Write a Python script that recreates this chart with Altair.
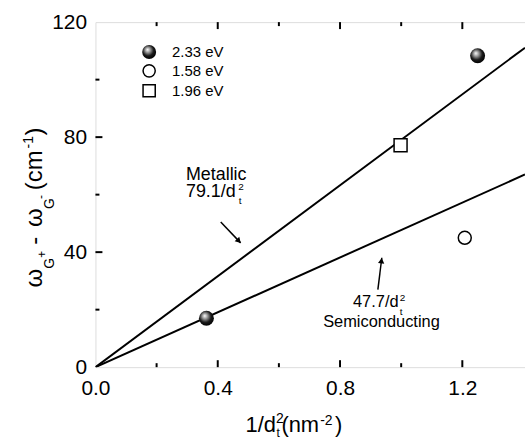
import altair as alt
import pandas as pd

# ---- data ----
series_labels = ["2.33 eV", "1.58 eV", "1.96 eV"]
x_233 = [0.363, 1.250]
y_233 = [17.0, 108.3]
x_158 = [1.208]
y_158 = [45.0]
x_196 = [0.998]
y_196 = [77.2]

# fitted lines (slopes 79.1 and 47.7)
line_x = [0.0, 1.405]
metallic_y = [0.0, 111.1]
semi_y = [0.0, 67.0]

x_major = [0.4, 0.8, 1.2]
x_minor = [0.2, 0.6, 1.0]
y_major = [40, 80]
y_minor = [20, 60, 100]
x_tick_labels = [0.0, 0.4, 0.8, 1.2]
y_tick_labels = [0, 40, 80, 120]

FONT = "Liberation Sans"
W, H = 432, 347
OX, OY = 96, 21

xs = alt.Scale(domain=[0, 1.405], nice=False, zero=False)
ys = alt.Scale(domain=[0, 120], nice=False)

x_axis = alt.Axis(values=x_tick_labels, format=".1f", ticks=False, tickSize=0, domain=False, grid=False,
                  labelFontSize=21, labelFont=FONT, labelColor="black", labelPadding=11,
                  labelFlush=False, labelOverlap=False, title=None)
y_axis = alt.Axis(values=y_tick_labels, format="d", ticks=False, tickSize=0, domain=False, grid=False,
                  labelFontSize=21, labelFont=FONT, labelColor="black", labelPadding=9,
                  labelFlush=False, labelOverlap=False, title=None)

lines_df = pd.DataFrame({"x": line_x + line_x,
                         "y": metallic_y + semi_y,
                         "g": ["Metallic"] * 2 + ["Semiconducting"] * 2})

lines = alt.Chart(lines_df).mark_line(color="black", strokeWidth=2, clip=True).encode(
    x=alt.X("x:Q", scale=xs, axis=x_axis),
    y=alt.Y("y:Q", scale=ys, axis=y_axis),
    detail="g:N",
)

sphere_fill = alt.RadialGradient(
    gradient="radial",
    stops=[alt.GradientStop(offset=0, color="#ffffff"),
           alt.GradientStop(offset=0.3, color="#9a9a9a"),
           alt.GradientStop(offset=0.65, color="#1a1a1a"),
           alt.GradientStop(offset=1, color="#000000")],
    x1=0.38, y1=0.33, r1=0.0, x2=0.45, y2=0.42, r2=0.6,
)

df233 = pd.DataFrame({"x": x_233, "y": y_233})
df158 = pd.DataFrame({"x": x_158, "y": y_158})
df196 = pd.DataFrame({"x": x_196, "y": y_196})

p233 = alt.Chart(df233).mark_point(shape="circle", filled=True, fill=sphere_fill, size=225,
                                   opacity=1, strokeWidth=0).encode(
    x=alt.X("x:Q", scale=xs), y=alt.Y("y:Q", scale=ys))
p158 = alt.Chart(df158).mark_point(shape="circle", filled=False, fill="white", stroke="black",
                                   strokeWidth=1.5, size=170, opacity=1).encode(
    x=alt.X("x:Q", scale=xs), y=alt.Y("y:Q", scale=ys))
p196 = alt.Chart(df196).mark_point(shape="square", filled=False, fill="white", stroke="black",
                                   strokeWidth=1.5, size=170, opacity=1).encode(
    x=alt.X("x:Q", scale=xs), y=alt.Y("y:Q", scale=ys))

# ---- inward ticks ----
def xticks(vals, length, top):
    d = pd.DataFrame({"v": vals})
    if top:
        return alt.Chart(d).mark_rule(color="black", strokeWidth=2).encode(
            x=alt.X("v:Q", scale=xs), y=alt.value(0), y2=alt.value(length))
    return alt.Chart(d).mark_rule(color="black", strokeWidth=2).encode(
        x=alt.X("v:Q", scale=xs), y=alt.value(H), y2=alt.value(H - length))

def yticks(vals, length):
    d = pd.DataFrame({"v": vals})
    return alt.Chart(d).mark_rule(color="black", strokeWidth=2).encode(
        y=alt.Y("v:Q", scale=ys), x=alt.value(0), x2=alt.value(length))

ticks = [xticks(x_major, 7, False), xticks(x_minor, 4, False),
         xticks(x_major, 7, True), xticks(x_minor, 4, True),
         yticks(y_major, 7), yticks(y_minor, 4)]

one = pd.DataFrame({"a": [0]})

def txt(s, x, y, size, angle=0, align="left", baseline="alphabetic"):
    kw = dict(text=s, fontSize=size, font=FONT, color="black", align=align, baseline=baseline)
    if angle:
        kw["angle"] = angle
    return alt.Chart(one).mark_text(**kw).encode(x=alt.value(x - OX), y=alt.value(y - OY))

texts = [
    # x-axis title
    txt("1/d", 247, 433, 22),
    txt("2", 277.5, 424, 14),
    txt("t", 278, 438, 12),
    txt("(nm", 283, 433, 22),
    txt("-2", 322, 426, 14),
    txt(")", 337, 433, 22),
    # y-axis title (rotated)
    txt("ω", 42, 288, 24, 270),
    txt("G", 54, 269, 14, 270),
    txt("+", 46, 258, 12, 270),
    txt("-", 42, 245, 24, 270),
    txt("ω", 42, 227, 24, 270),
    txt("G", 54, 209, 14, 270),
    txt("-", 45, 199, 12, 270),
    txt("(cm", 42, 190, 24, 270),
    txt("-1", 33, 148, 14, 270),
    txt(")", 42, 135, 24, 270),
    # annotations
    txt("Metallic", 187, 180, 18),
    txt("79.1/d", 187, 197, 18),
    txt("2", 239.5, 190, 10),
    txt("t", 240, 204, 10),
    txt("47.7/d", 355, 308, 16.5),
    txt("2", 402, 301, 10),
    txt("t", 402, 316, 10),
    txt("Semiconducting", 325, 328, 16.5),
]

# legend
leg_y = [51, 70, 90]
legend = [
    alt.Chart(one).mark_point(shape="circle", filled=True, fill=sphere_fill, size=196, opacity=1,
                              strokeWidth=0).encode(x=alt.value(150 - OX), y=alt.value(leg_y[0] - OY)),
    alt.Chart(one).mark_point(shape="circle", filled=False, fill="white", stroke="black", strokeWidth=1.5,
                              size=150, opacity=1).encode(x=alt.value(150 - OX), y=alt.value(leg_y[1] - OY)),
    alt.Chart(one).mark_point(shape="square", filled=False, fill="white", stroke="black", strokeWidth=1.5,
                              size=150, opacity=1).encode(x=alt.value(150 - OX), y=alt.value(leg_y[2] - OY)),
]
for i, lab in enumerate(series_labels):
    legend.append(txt(lab, 173, leg_y[i] + 5.5, 15))

# arrows
def arrow(x1, y1, x2, y2, ang):
    line = alt.Chart(one).mark_rule(color="black", strokeWidth=1.5).encode(
        x=alt.value(x1 - OX), y=alt.value(y1 - OY), x2=alt.value(x2 - OX), y2=alt.value(y2 - OY))
    head = alt.Chart(one).mark_point(shape="triangle", filled=True, color="black", size=40,
                                     opacity=1, angle=ang).encode(
        x=alt.value(x2 - OX - (x2 - x1) * 0.12), y=alt.value(y2 - OY - (y2 - y1) * 0.12))
    return [line, head]

arrows = arrow(222, 222, 242, 243, 136) + arrow(380, 290, 384, 258, 7)

chart = alt.layer(lines, *ticks, p233, p158, p196, *texts, *legend, *arrows).properties(
    width=W, height=H,
    autosize=alt.AutoSizeParams(type="none"),
    padding={"left": OX, "top": OY, "right": 0, "bottom": 439 - OY - H},
).configure_view(stroke="black", strokeWidth=2).configure(background="white")

chart.save("out.html", embed_options={"renderer": "svg", "actions": False})
